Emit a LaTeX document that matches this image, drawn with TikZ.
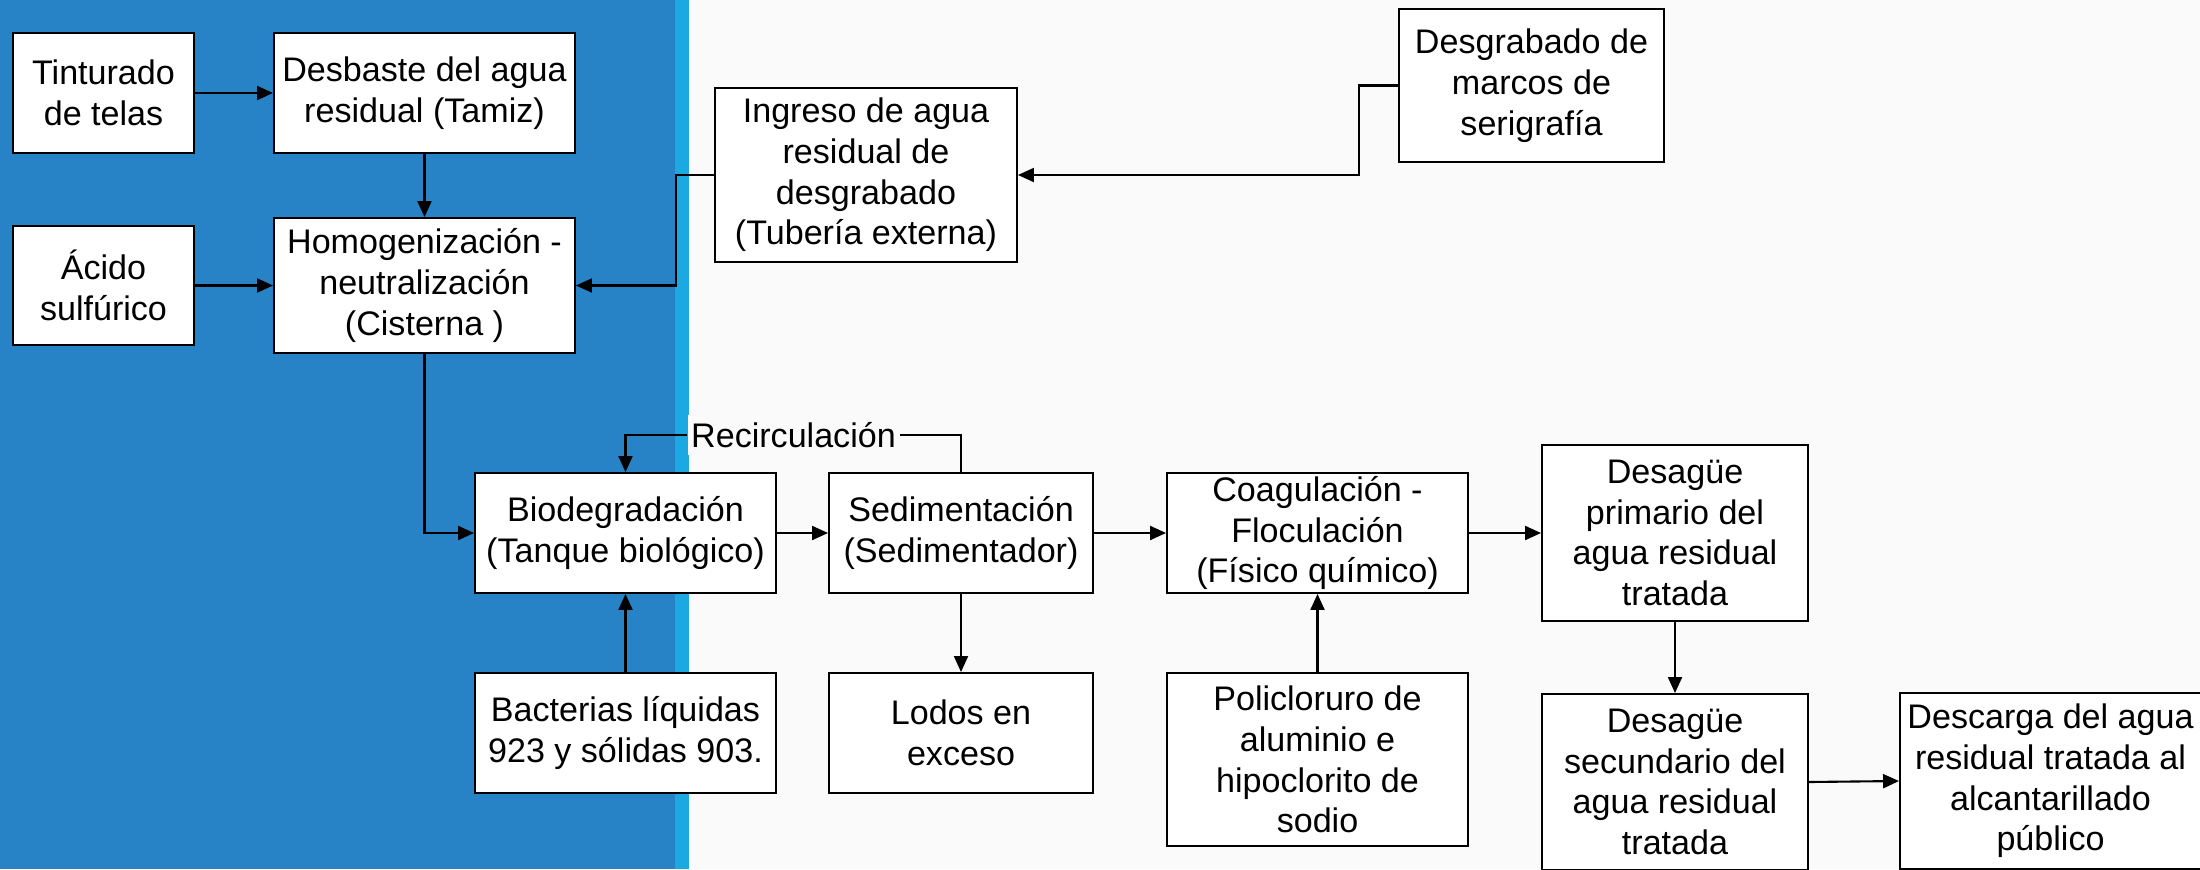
\documentclass[tikz,border=0pt]{standalone}
\usepackage{fontspec}
\setmainfont{Liberation Sans}
\usetikzlibrary{arrows.meta}
\definecolor{bgc}{HTML}{FAFAFA}
\definecolor{dblue}{HTML}{2882C6}
\definecolor{lblue}{HTML}{1CA8E0}
\tikzset{
  txt/.style={font=\fontsize{19.4pt}{23.2pt}\selectfont},
  box/.style={txt, draw=black, fill=white, line width=1.1pt, align=center, inner sep=0pt},
  wh/.style n args={2}{minimum width=#1*0.02cm, minimum height=#2*0.02cm},
  conn/.style={line width=1.2pt},
  arr/.style={conn, -{Triangle[length=0.32cm,width=0.28cm]}}
}
\begin{document}
\begin{tikzpicture}[x=0.02cm,y=-0.02cm]
\useasboundingbox (0,0) rectangle (2200,869);
\clip (0,0) rectangle (2200,869);
% background
\fill[bgc] (0,0) rectangle (2200,869);
\fill[dblue] (0,0) rectangle (675,869);
\fill[lblue] (675,0) rectangle (689,869);
% nodes
\node[box, wh={181}{120}] (tint) at (103.5,93) {Tinturado\\de telas};
\node[box, wh={301}{120}] (desb) at (424.5,93) {Desbaste del agua\\residual (Tamiz)};
\node[box, wh={181}{119}] (acido) at (103.5,285.5) {Ácido\\sulfúrico};
\node[box, wh={301}{135}] (homog) at (424.5,285.5) {Homogenización -\\neutralización\\(Cisterna )};
\node[box, wh={302}{174}] (ingreso) at (866,175) {Ingreso de agua\\residual de\\desgrabado\\(Tubería externa)};
\node[box, wh={265}{153}] (marcos) at (1531.5,85.5) {Desgrabado de\\marcos de\\serigrafía};
\node[box, wh={301}{120}] (bio) at (625.5,533) {Biodegradación\\(Tanque biológico)};
\node[box, wh={264}{120}] (sed) at (961,533) {Sedimentación\\(Sedimentador)};
\node[box, wh={301}{120}] (coag) at (1317.5,533) {Coagulación -\\Floculación\\(Físico químico)};
\node[box, wh={301}{120}] (bact) at (625.5,733) {Bacterias líquidas\\923 y sólidas 903.};
\node[box, wh={264}{120}] (lodos) at (961,733) {Lodos en\\exceso};
\node[box, wh={301}{173}] (poli) at (1317.5,759.5) {Policloruro de\\aluminio e\\hipoclorito de\\sodio};
\node[box, wh={266}{176}] (prim) at (1675,533) {Desagüe\\primario del\\agua residual\\tratada};
\node[box, wh={266}{176}] (sec) at (1675,782) {Desagüe\\secundario del\\agua residual\\tratada};
\node[box, wh={301}{176}] (desc) at (2050.5,781) {Descarga del agua\\residual tratada al\\alcantarillado\\público};
\node[txt, fill=bgc, inner xsep=2pt, inner ysep=4pt] (rc) at (793.5,435) {Recirculación};
% connectors
\draw[arr] (tint) -- (desb);
\draw[arr] (acido) -- (homog);
\draw[arr] (desb) -- (homog);
\draw[arr] (marcos.west) -- ++(-39,0) |- (ingreso.east);
\draw[arr] (ingreso.west) -- ++(-38,0) |- (homog.east);
\draw[arr] (homog.south) |- (bio.west);
\draw[arr] (bio) -- (sed);
\draw[arr] (sed) -- (coag);
\draw[arr] (coag) -- (prim);
\draw[arr] (bact) -- (bio);
\draw[arr] (sed) -- (lodos);
\draw[arr] (poli) -- (coag);
\draw[arr] (prim) -- (sec);
\draw[arr] (sec.east) -- (desc.west);
\draw[conn] (sed.north) |- (rc.east);
\draw[arr] (rc.west) -| (bio.north);
\end{tikzpicture}
\end{document}
